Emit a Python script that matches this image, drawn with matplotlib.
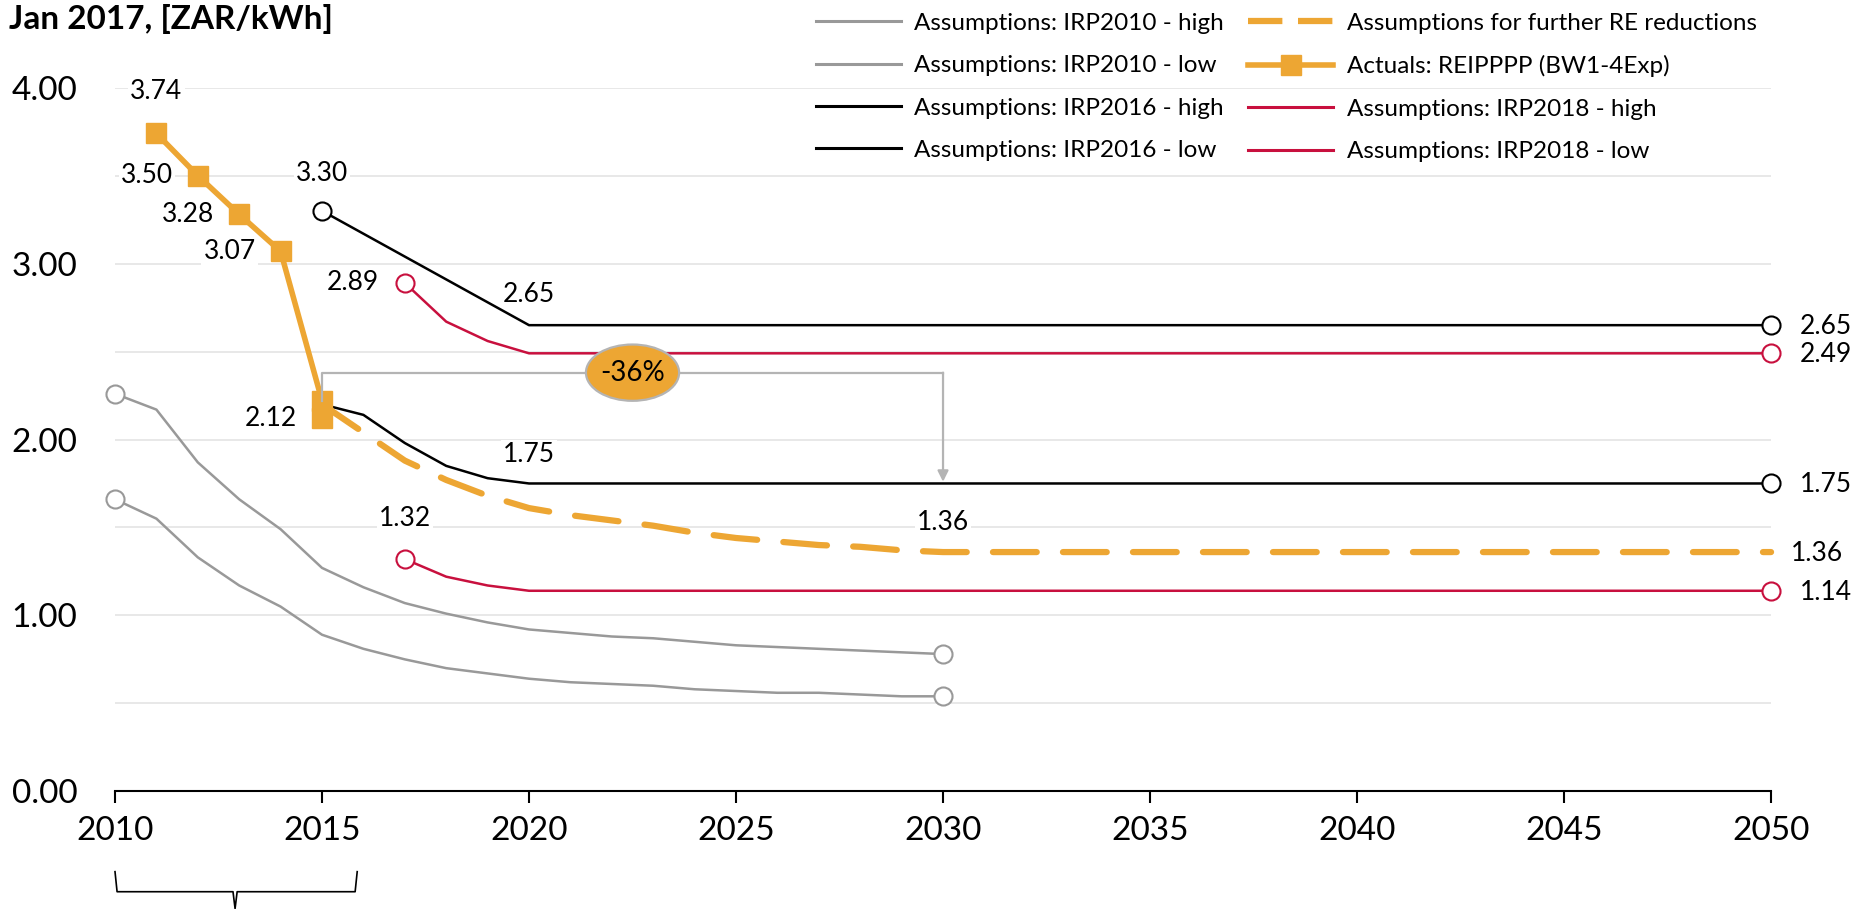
import matplotlib
matplotlib.use('Agg')
import matplotlib.pyplot as plt
from matplotlib.lines import Line2D
from matplotlib.patches import Ellipse

plt.rcParams['font.family'] = ['Lato', 'DejaVu Sans']

# data, Jan 2017 ZAR/kWh
years_actual = [2011, 2012, 2013, 2014, 2015, 2015]
actual = [3.74, 3.50, 3.28, 3.07, 2.22, 2.12]

years_2010 = list(range(2010, 2031))
irp2010_high = [2.26, 2.17, 1.87, 1.66, 1.49, 1.27, 1.16, 1.07, 1.01, 0.96, 0.92,
                0.90, 0.88, 0.87, 0.85, 0.83, 0.82, 0.81, 0.80, 0.79, 0.78]
irp2010_low = [1.66, 1.55, 1.33, 1.17, 1.05, 0.89, 0.81, 0.75, 0.70, 0.67, 0.64,
               0.62, 0.61, 0.60, 0.58, 0.57, 0.56, 0.56, 0.55, 0.54, 0.54]

years_2016_high = [2015, 2020, 2050]
irp2016_high = [3.30, 2.65, 2.65]
years_2016_low = [2015, 2016, 2017, 2018, 2019, 2020, 2050]
irp2016_low = [2.20, 2.14, 1.98, 1.85, 1.78, 1.75, 1.75]

years_2018 = [2017, 2018, 2019, 2020, 2050]
irp2018_high = [2.89, 2.67, 2.56, 2.49, 2.49]
irp2018_low = [1.32, 1.22, 1.17, 1.14, 1.14]

years_re = list(range(2015, 2031)) + [2050]
re_further = [2.20, 2.04, 1.88, 1.77, 1.68, 1.61, 1.57, 1.54, 1.51, 1.47, 1.44,
              1.42, 1.40, 1.39, 1.37, 1.36, 1.36]

reduction_label = '-36%'
xticks = list(range(2010, 2051, 5))
yticks = [0, 1, 2, 3, 4]

ORANGE = '#EDA633'
RED = '#C8103E'
GRAY = '#999999'
LIGHT = '#b4b4b4'

fig = plt.figure(figsize=(18.58, 9.09), dpi=100)
ax = fig.add_axes([0.0619, 0.1295, 0.8913, 0.774])

circ = dict(marker='o', markersize=13, markerfacecolor='white', markeredgewidth=1.5,
            markevery=[0, -1], clip_on=False)
ax.plot(years_2010, irp2010_high, color=GRAY, lw=1.8, zorder=3, markeredgecolor=GRAY, **circ)
ax.plot(years_2010, irp2010_low, color=GRAY, lw=1.8, zorder=3, markeredgecolor=GRAY, **circ)
ax.plot(years_2016_high, irp2016_high, color='black', lw=1.8, zorder=3, markeredgecolor='black', **circ)
ax.plot(years_2016_low, irp2016_low, color='black', lw=1.8, zorder=3,
        marker='o', markersize=13, markerfacecolor='white', markeredgewidth=1.5,
        markeredgecolor='black', markevery=[-1], clip_on=False)
ax.plot(years_2018, irp2018_high, color=RED, lw=1.8, zorder=3, markeredgecolor=RED, **circ)
ax.plot(years_2018, irp2018_low, color=RED, lw=1.8, zorder=3, markeredgecolor=RED, **circ)
ax.plot(years_re, re_further, color=ORANGE, lw=4.5, dashes=(7, 4.2),
        dash_capstyle='round', zorder=4, clip_on=False)
ax.plot(years_actual, actual, color=ORANGE, lw=4, marker='s', markersize=14,
        zorder=5, clip_on=False)

# -36% bracket
level = 2.38
ax.plot([2015, 2015, 2030], [actual[4], level, level], color=LIGHT, lw=1.6, zorder=6)
ax.annotate('', xy=(2030, irp2016_low[-1] + 0.01), xytext=(2030, level),
            arrowprops=dict(arrowstyle='-|>', color=LIGHT, lw=1.6, mutation_scale=16,
                            shrinkA=0, shrinkB=0), zorder=6)
ax.add_patch(Ellipse((2022.5, level), 2.25, 0.32, facecolor=ORANGE, edgecolor=LIGHT,
                     lw=1.6, zorder=7))
ax.text(2022.5, level, reduction_label, ha='center', va='center', fontsize=20, zorder=8)

# data labels
box = dict(facecolor='white', edgecolor='none', pad=1.5)
def lab(txt, x, y, dx, dy, ha='center'):
    ax.annotate(txt, (x, y), xytext=(dx, dy), textcoords='offset points', ha=ha,
                va='center', fontsize=19, bbox=box, zorder=2.5, annotation_clip=False)

lab('%.2f' % actual[0], years_actual[0], actual[0], 0, 30)
for i in range(1, 4):
    lab('%.2f' % actual[i], years_actual[i], actual[i], -18, 0, 'right')
lab('%.2f' % actual[5], years_actual[5], actual[5], -18, 0, 'right')
lab('%.2f' % irp2016_high[0], years_2016_high[0], irp2016_high[0], 0, 27)
lab('%.2f' % irp2018_high[0], years_2018[0], irp2018_high[0], -19, 0, 'right')
lab('%.2f' % irp2016_high[1], years_2016_high[1], irp2016_high[1], 0, 22)
lab('%.2f' % irp2016_low[5], years_2016_low[5], irp2016_low[5], 0, 21)
lab('%.2f' % irp2018_low[0], years_2018[0], irp2018_low[0], 0, 29)
lab('%.2f' % re_further[15], years_re[15], re_further[15], 0, 21)
for yr, v in [(years_2016_high[-1], irp2016_high[-1]), (years_2018[-1], irp2018_high[-1]),
              (years_2016_low[-1], irp2016_low[-1]), (years_2018[-1], irp2018_low[-1])]:
    lab('%.2f' % v, yr, v, 21, -1, 'left')
lab('%.2f' % re_further[-1], years_re[-1], re_further[-1], 14, -1, 'left')

# axes styling
ax.set_xlim(2010, 2050)
ax.set_ylim(0, 4)
ax.set_xticks(xticks)
ax.set_yticks(yticks)
ax.set_yticklabels(['%.2f' % v for v in yticks])
ax.set_yticks([0.5, 1.5, 2.5, 3.5], minor=True)
ax.yaxis.grid(True, which='both', color='#e4e4e4', lw=1.2)
ax.set_axisbelow(True)
for s in ['left', 'right', 'top']:
    ax.spines[s].set_visible(False)
ax.spines['bottom'].set_linewidth(1.5)
ax.tick_params(axis='y', which='both', length=0, labelsize=24, pad=27)
ax.tick_params(axis='x', length=8.6, width=1.5, labelsize=24, pad=9, direction='out')

# brace under 2010-2015
bx = [2010, 2010.05, 2012.85, 2012.9, 2012.95, 2015.8, 2015.85]
by = [-0.457, -0.571, -0.571, -0.667, -0.571, -0.571, -0.457]
ax.plot(bx, by, color='black', lw=1.2, clip_on=False)

fig.text(0.005, 0.979, 'Jan 2017, [ZAR/kWh]', fontsize=24, fontweight='bold', va='center')

handles = [
    Line2D([], [], color=GRAY, lw=2.2),
    Line2D([], [], color=GRAY, lw=2.2),
    Line2D([], [], color='black', lw=2.2),
    Line2D([], [], color='black', lw=2.2),
    Line2D([], [], color=ORANGE, lw=4.5, dashes=(5.5, 2.5)),
    Line2D([], [], color=ORANGE, lw=4, marker='s', markersize=14),
    Line2D([], [], color=RED, lw=2.2),
    Line2D([], [], color=RED, lw=2.2),
]
labels = ['Assumptions: IRP2010 - high', 'Assumptions: IRP2010 - low',
          'Assumptions: IRP2016 - high', 'Assumptions: IRP2016 - low',
          'Assumptions for further RE reductions', 'Actuals: REIPPPP (BW1-4Exp)',
          'Assumptions: IRP2018 - high', 'Assumptions: IRP2018 - low']
leg = fig.legend(handles, labels, ncol=2, loc='upper left', bbox_to_anchor=(0.439, 0.986),
                 frameon=False, fontsize=17.5, handlelength=3.5, handletextpad=0.55,
                 columnspacing=1.0, labelspacing=0.88, borderpad=0, borderaxespad=0)

fig.savefig('out.png', dpi=100)
